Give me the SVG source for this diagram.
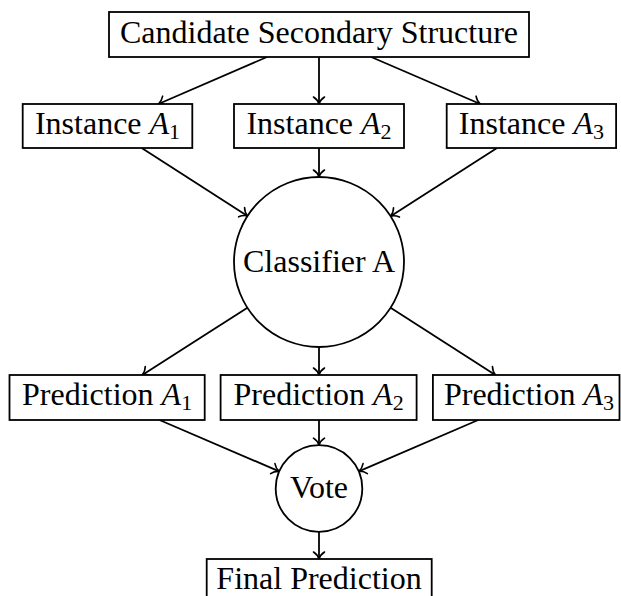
<svg xmlns="http://www.w3.org/2000/svg" width="621" height="596" viewBox="0 0 621 596">
  <style>
    .box { fill: #fff; stroke: #000; stroke-width: 1.8; }
    .lbl { font-family: 'Liberation Serif'; font-size: 32px; fill: #000; text-anchor: middle; }
    .it { font-style: italic; }
    .sub { font-size: 22px; }
    .edge { fill: none; stroke: #000; stroke-width: 1.8; marker-end: url(#tip); }
  </style>
  <defs>
    <!-- open curved arrow tip, tip point at the line end -->
    <marker id="tip" markerUnits="userSpaceOnUse" viewBox="-9 -7 11 14" refX="0" refY="0" markerWidth="11" markerHeight="14" orient="auto">
      <path d="M -7 -5.5 C -5 -2.5 -2 -0.6 0 0 C -2 0.6 -5 2.5 -7 5.5" fill="none" stroke="#000" stroke-width="1.6" stroke-linecap="round"/>
    </marker>
  </defs>

  <rect width="621" height="596" fill="#fff"/>

  <!-- connectors: centre-to-centre lines clipped at node borders -->
  <g id="connectors">
    <line class="edge" x1="267" y1="57" x2="158.4" y2="104"/>
    <line class="edge" x1="319" y1="57" x2="319" y2="104"/>
    <line class="edge" x1="371.2" y1="57" x2="480.3" y2="104"/>
    <line class="edge" x1="141.7" y1="148" x2="247.5" y2="216"/>
    <line class="edge" x1="319" y1="148" x2="319" y2="177"/>
    <line class="edge" x1="497" y1="148" x2="390.6" y2="216.2"/>
    <line class="edge" x1="247.4" y1="307.8" x2="142.3" y2="375"/>
    <line class="edge" x1="319" y1="347" x2="319" y2="375"/>
    <line class="edge" x1="390.6" y1="307.8" x2="495.4" y2="375"/>
    <line class="edge" x1="159.5" y1="420" x2="279.2" y2="471.4"/>
    <line class="edge" x1="319" y1="420" x2="319" y2="445.2"/>
    <line class="edge" x1="478.2" y1="420" x2="358.8" y2="471.4"/>
    <line class="edge" x1="319" y1="531.8" x2="319" y2="559"/>
  </g>

  <g id="candidate">
    <rect class="box" x="109" y="12" width="420" height="45"/>
    <text class="lbl" x="319" y="43">Candidate Secondary Structure</text>
  </g>

  <g id="instance-a1">
    <rect class="box" x="22.7" y="104" width="169.6" height="44"/>
    <text class="lbl" x="107.5" y="134">Instance <tspan class="it">A</tspan><tspan class="sub" dy="5">1</tspan></text>
  </g>
  <g id="instance-a2">
    <rect class="box" x="234" y="104" width="170" height="44"/>
    <text class="lbl" x="319" y="134">Instance <tspan class="it">A</tspan><tspan class="sub" dy="5">2</tspan></text>
  </g>
  <g id="instance-a3">
    <rect class="box" x="446.7" y="104" width="169.4" height="44"/>
    <text class="lbl" x="531.4" y="134">Instance <tspan class="it">A</tspan><tspan class="sub" dy="5">3</tspan></text>
  </g>

  <g id="classifier">
    <circle class="box" cx="319" cy="262" r="85"/>
    <text class="lbl" x="319" y="272">Classifier A</text>
  </g>

  <g id="prediction-a1">
    <rect class="box" x="9.5" y="375" width="195.2" height="45"/>
    <text class="lbl" x="107.1" y="405">Prediction <tspan class="it">A</tspan><tspan class="sub" dy="5">1</tspan></text>
  </g>
  <g id="prediction-a2">
    <rect class="box" x="220.6" y="375" width="196" height="45"/>
    <text class="lbl" x="318.6" y="405">Prediction <tspan class="it">A</tspan><tspan class="sub" dy="5">2</tspan></text>
  </g>
  <g id="prediction-a3">
    <rect class="box" x="432.9" y="375" width="186.6" height="45"/>
    <text class="lbl" x="529" y="405">Prediction <tspan class="it">A</tspan><tspan class="sub" dy="5">3</tspan></text>
  </g>

  <g id="vote">
    <circle class="box" cx="319" cy="488.5" r="43.3"/>
    <text class="lbl" x="319" y="498">Vote</text>
  </g>

  <g id="final">
    <rect class="box" x="206.7" y="559" width="225" height="45"/>
    <text class="lbl" x="319" y="589">Final Prediction</text>
  </g>
</svg>
